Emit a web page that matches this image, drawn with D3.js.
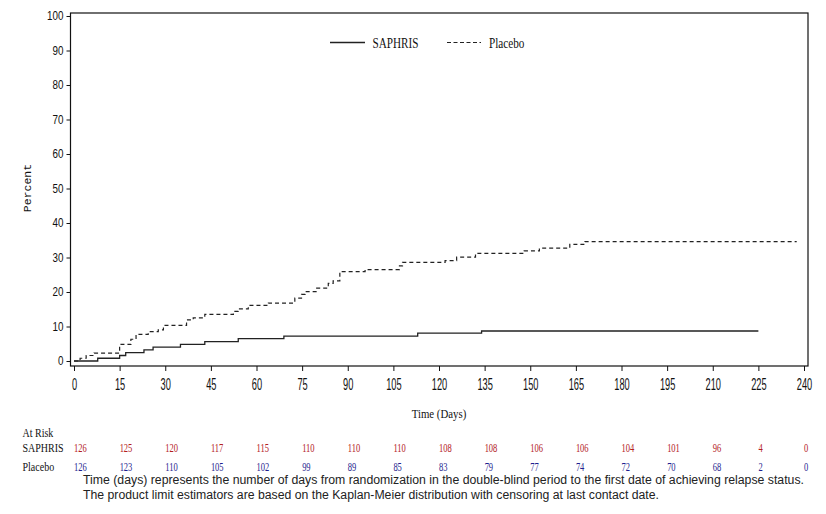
<!DOCTYPE html>
<html>
<head>
<meta charset="utf-8">
<script src="https://cdn.jsdelivr.net/npm/d3@7"></script>
<style>
  html, body { margin: 0; padding: 0; background: #fff; }
  svg { display: block; }
</style>
</head>
<body>
<svg id="chart" width="826" height="514"></svg>
<script>
// ---- Data ----
const seriesNames = ["SAPHRIS", "Placebo"];
const saphrisDays = [0, 7.8, 15, 17, 23, 26, 35, 43, 54, 69, 113, 134, 225];
const saphrisPct  = [0, 0.8, 1.6, 2.4, 3.2, 4.0, 4.8, 5.6, 6.5, 7.2, 8.1, 8.7, 8.7];
const placeboDays = [0, 2, 4, 6.6, 15, 18.7, 20.4, 24.4, 27.7, 29.4, 37, 39.2, 43, 52.4, 54, 57.3, 63.9, 72.6, 74.8, 76, 79.8, 83.6, 85.2, 87.4, 95.7, 107, 108, 122, 125.8, 132, 148, 153, 163, 168, 237.6];
const placeboPct  = [0, 0.8, 1.6, 2.3, 4.8, 6.3, 7.7, 8.5, 9.0, 10.3, 11.9, 12.5, 13.5, 14.4, 15.1, 16.1, 16.8, 18.2, 19.3, 20.1, 21.1, 22.5, 23.2, 25.9, 26.5, 27.6, 28.6, 29.1, 30.1, 31.2, 31.9, 32.7, 33.8, 34.6, 34.6];
const xTicks = [0, 15, 30, 45, 60, 75, 90, 105, 120, 135, 150, 165, 180, 195, 210, 225, 240];
const yTicks = [0, 10, 20, 30, 40, 50, 60, 70, 80, 90, 100];
const atRiskSaphris = [126, 125, 120, 117, 115, 110, 110, 110, 108, 108, 106, 106, 104, 101, 96, 4, 0];
const atRiskPlacebo = [126, 123, 110, 105, 102, 99, 89, 85, 83, 79, 77, 74, 72, 70, 68, 2, 0];
const xTitle = "Time (Days)";
const yTitle = "Percent";
const atRiskTitle = "At Risk";
const footnotes = [
  "Time (days) represents the number of days from randomization in the double-blind period to the first date of achieving relapse status.",
  "The product limit estimators are based on the Kaplan-Meier distribution with censoring at last contact date."
];

// ---- Layout ----
const svg = d3.select("#chart");
const frame = { left: 70.5, right: 808, top: 13, bottom: 366 };
const x = d3.scaleLinear().domain([0, 240]).range([74, 804]);
const y = d3.scaleLinear().domain([0, 100]).range([361, 16]);

// frame
svg.append("rect")
  .attr("x", frame.left).attr("y", frame.top)
  .attr("width", frame.right - frame.left).attr("height", frame.bottom - frame.top)
  .attr("fill", "none").attr("stroke", "#111").attr("stroke-width", 1.2);

// y axis
const yAxis = svg.append("g")
  .attr("transform", `translate(${frame.left},0)`)
  .call(d3.axisLeft(y).tickValues(yTicks).tickSize(4).tickPadding(3).tickSizeOuter(0));
yAxis.select(".domain").remove();
yAxis.selectAll("line").attr("stroke", "#111");
yAxis.selectAll("text")
  .attr("font-family", "'Liberation Sans', Arial, sans-serif")
  .attr("font-size", 12)
  .attr("fill", "#111")
  .attr("transform", "scale(0.82,1)")
  .attr("x", -7 / 0.82);

// x axis
const xAxis = svg.append("g")
  .attr("transform", `translate(0,${frame.bottom})`)
  .call(d3.axisBottom(x).tickValues(xTicks).tickSize(5).tickPadding(8).tickSizeOuter(0));
xAxis.select(".domain").remove();
xAxis.selectAll("line").attr("stroke", "#111");
xAxis.selectAll("text")
  .attr("font-family", "'Liberation Sans', Arial, sans-serif")
  .attr("font-size", 16)
  .attr("fill", "#111")
  .attr("transform", "scale(0.58,1)");

// axis titles
svg.append("text")
  .attr("transform", `translate(${x(120)},418) scale(0.8,1)`)
  .attr("text-anchor", "middle")
  .attr("font-family", "'Liberation Serif', 'Times New Roman', serif")
  .attr("font-size", 13.5).attr("fill", "#111")
  .text(xTitle);

svg.append("text")
  .attr("transform", "translate(31,188) rotate(-90)")
  .attr("text-anchor", "middle")
  .attr("font-family", "'Liberation Mono', 'Courier New', monospace")
  .attr("font-size", 11.5).attr("fill", "#111")
  .text(yTitle);

// curves
const line = d3.line().x(d => x(d[0])).y(d => y(d[1])).curve(d3.curveStepAfter);
const saphrisData = saphrisDays.map((d, i) => [d, saphrisPct[i]]);
const placeboData = placeboDays.map((d, i) => [d, placeboPct[i]]);

svg.append("path").datum(saphrisData)
  .attr("d", line).attr("fill", "none")
  .attr("stroke", "#222").attr("stroke-width", 1.3);
svg.append("path").datum(placeboData)
  .attr("d", line).attr("fill", "none")
  .attr("stroke", "#222").attr("stroke-width", 1.2)
  .attr("stroke-dasharray", "4,3");

// legend
const lg = svg.append("g");
lg.append("line").attr("x1", 330).attr("x2", 365).attr("y1", 42.5).attr("y2", 42.5)
  .attr("stroke", "#222").attr("stroke-width", 1.3);
lg.append("text").attr("transform", "translate(372.5,47.5) scale(0.8,1)")
  .attr("font-family", "'Liberation Serif', 'Times New Roman', serif")
  .attr("font-size", 14).attr("fill", "#111").text(seriesNames[0]);
lg.append("line").attr("x1", 447).attr("x2", 481).attr("y1", 42.5).attr("y2", 42.5)
  .attr("stroke", "#222").attr("stroke-width", 1.2).attr("stroke-dasharray", "4,2.5");
lg.append("text").attr("transform", "translate(489,47.5) scale(0.8,1)")
  .attr("font-family", "'Liberation Serif', 'Times New Roman', serif")
  .attr("font-size", 14).attr("fill", "#111").text(seriesNames[1]);

// at risk table
const serif = "'Liberation Serif', 'Times New Roman', serif";
svg.append("text").attr("transform", "translate(22.5,437) scale(0.87,1)")
  .attr("font-family", serif).attr("font-size", 11.5).attr("fill", "#111").text(atRiskTitle);
svg.append("text").attr("transform", "translate(22.5,452) scale(0.87,1)")
  .attr("font-family", serif).attr("font-size", 11.5).attr("fill", "#111").text(seriesNames[0]);
svg.append("text").attr("transform", "translate(22.5,471) scale(0.87,1)")
  .attr("font-family", serif).attr("font-size", 11.5).attr("fill", "#111").text(seriesNames[1]);

svg.append("g").selectAll("text").data(atRiskSaphris).join("text")
  .attr("transform", (d, i) => `translate(${x(xTicks[i])},452) scale(0.63,1)`)
  .attr("font-family", serif).attr("font-size", 13.5).attr("fill", "#b3201e")
  .text(d => d);
svg.append("g").selectAll("text").data(atRiskPlacebo).join("text")
  .attr("transform", (d, i) => `translate(${x(xTicks[i])},471) scale(0.63,1)`)
  .attr("font-family", serif).attr("font-size", 13.5).attr("fill", "#1f1f8f")
  .text(d => d);

// footnotes
const fnWidths = [721, 576];
const fnBase = [484, 498.5];
footnotes.forEach((t, i) => {
  svg.append("text")
    .attr("x", 83).attr("y", fnBase[i])
    .attr("font-family", "'Liberation Sans', Arial, sans-serif")
    .attr("font-size", 12).attr("fill", "#222")
    .attr("textLength", fnWidths[i]).attr("lengthAdjust", "spacingAndGlyphs")
    .text(t);
});
</script>
</body>
</html>
